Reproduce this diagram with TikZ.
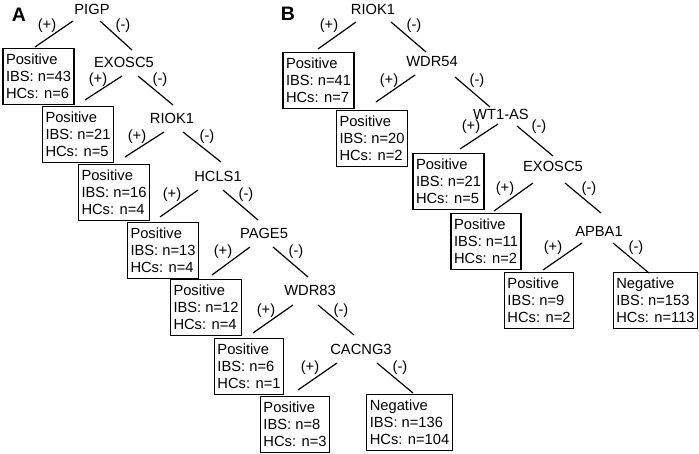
\documentclass[tikz,border=0pt]{standalone}
\usepackage{fontspec}
\setmainfont{Liberation Sans}
\begin{document}
\begin{tikzpicture}[x=1pt,y=-1pt,
  gene/.style={font=\fontsize{14.7}{17}\selectfont, inner sep=0pt},
  sgn/.style={font=\fontsize{14.7}{17}\selectfont, inner sep=0pt},
  leaf/.style={draw, line width=1.3pt, anchor=north, align=left, inner xsep=3pt, inner ysep=2pt,
    minimum height=56pt, font=\fontsize{14.7}{17}\selectfont},
  edge/.style={line width=1.2pt},
  panel/.style={font=\bfseries\fontsize{19.5}{20}\selectfont, inner sep=0pt}]
\useasboundingbox (0,0) rectangle (699,454);
% ---------------- Panel A ----------------
\node[panel] (labA) at (19,15) {A};
\node[gene] (pigp) at (92,9) {PIGP};
\node[gene] (exoA) at (124,62) {EXOSC5};
\node[gene] (riokA) at (172,118) {RIOK1};
\node[gene] (hcls) at (218,176) {HCLS1};
\node[gene] (page) at (264,233) {PAGE5};
\node[gene] (wdr83) at (310,290) {WDR83};
\node[gene] (cacng) at (361,349) {CACNG3};

\node[leaf] (a1) at (38.5,48) {Positive\\IBS: n=43\\HCs: n=6};
\node[leaf] (a2) at (78,106) {Positive\\IBS: n=21\\HCs: n=5};
\node[leaf] (a3) at (114,164) {Positive\\IBS: n=16\\HCs: n=4};
\node[leaf] (a4) at (163,222) {Positive\\IBS: n=13\\HCs: n=4};
\node[leaf] (a5) at (206,279) {Positive\\IBS: n=12\\HCs: n=4};
\node[leaf] (a6) at (249,338) {Positive\\IBS: n=6\\HCs: n=1};
\node[leaf] (a7) at (295,396) {Positive\\IBS: n=8\\HCs: n=3};
\node[leaf] (a8) at (409.5,394) {Negative\\IBS: n=136\\HCs: n=104};

\node[sgn] (pA1) at (47,26) {(+)};   \node[sgn] (mA1) at (123,26) {(-)};
\node[sgn] (pA2) at (98,80) {(+)};   \node[sgn] (mA2) at (160,80) {(-)};
\node[sgn] (pA3) at (137,137) {(+)}; \node[sgn] (mA3) at (207,137) {(-)};
\node[sgn] (pA4) at (172,195) {(+)}; \node[sgn] (mA4) at (246,195) {(-)};
\node[sgn] (pA5) at (223,252) {(+)}; \node[sgn] (mA5) at (296,252) {(-)};
\node[sgn] (pA6) at (266,311) {(+)}; \node[sgn] (mA6) at (341,311) {(-)};
\node[sgn] (pA7) at (310,368) {(+)}; \node[sgn] (mA7) at (400,368) {(-)};

\draw[edge] ([shift={(-19,12)}]pigp.center) -- ([shift={(-3.5,-1)}]a1.north);
\draw[edge] ([shift={(8,12)}]pigp.center) -- ([shift={(8,-12)}]exoA.center);
\draw[edge] ([shift={(-2,14)}]exoA.center) -- ([shift={(7,-6)}]a2.north);
\draw[edge] ([shift={(14,14)}]exoA.center) -- ([shift={(1,-13)}]riokA.center);
\draw[edge] ([shift={(-8,14)}]riokA.center) -- ([shift={(11,-7)}]a3.north);
\draw[edge] ([shift={(11,14)}]riokA.center) -- ([shift={(3,-14)}]hcls.center);
\draw[edge] ([shift={(-20,14)}]hcls.center) -- ([shift={(-3,-5)}]a4.north);
\draw[edge] ([shift={(5,14)}]hcls.center) -- ([shift={(-6,-13)}]page.center);
\draw[edge] ([shift={(-14,14)}]page.center) -- ([shift={(6,-4)}]a5.north);
\draw[edge] ([shift={(9,14)}]page.center) -- ([shift={(-2,-13)}]wdr83.center);
\draw[edge] ([shift={(-17,15)}]wdr83.center) -- ([shift={(4,-5)}]a6.north);
\draw[edge] ([shift={(8,15)}]wdr83.center) -- ([shift={(-7,-14)}]cacng.center);
\draw[edge] ([shift={(-24,14)}]cacng.center) -- ([shift={(3,-6)}]a7.north);
\draw[edge] ([shift={(16,14)}]cacng.center) -- ([shift={(3.5,-1)}]a8.north);

% ---------------- Panel B ----------------
\node[panel] (labB) at (288,14) {B};
\node[gene] (riokB) at (373,9) {RIOK1};
\node[gene] (wdr54) at (432,62) {WDR54};
\node[gene] (wt1) at (501,114) {WT1-AS};
\node[gene] (exoB) at (553,166) {EXOSC5};
\node[gene] (apba) at (599,231) {APBA1};

\node[leaf] (b1) at (318.5,52) {Positive\\IBS: n=41\\HCs: n=7};
\node[leaf] (b2) at (372,110) {Positive\\IBS: n=20\\HCs: n=2};
\node[leaf] (b3) at (448.5,153) {Positive\\IBS: n=21\\HCs: n=5};
\node[leaf] (b4) at (486,213) {Positive\\IBS: n=11\\HCs: n=2};
\node[leaf] (b5) at (539,272) {Positive\\IBS: n=9\\HCs: n=2};
\node[leaf] (b6) at (655.5,272) {Negative\\IBS: n=153\\HCs: n=113};

\node[sgn] (pB1) at (329,26) {(+)};  \node[sgn] (mB1) at (414,26) {(-)};
\node[sgn] (pB2) at (389,81) {(+)};  \node[sgn] (mB2) at (477,81) {(-)};
\node[sgn] (pB3) at (471,127) {(+)}; \node[sgn] (mB3) at (539,127) {(-)};
\node[sgn] (pB4) at (505,189) {(+)}; \node[sgn] (mB4) at (589,189) {(-)};
\node[sgn] (pB5) at (553,248) {(+)}; \node[sgn] (mB5) at (636,248) {(-)};

\draw[edge] ([shift={(-17,13)}]riokB.center) -- ([shift={(-0.5,-3)}]b1.north);
\draw[edge] ([shift={(18,13)}]riokB.center) -- ([shift={(-6,-10)}]wdr54.center);
\draw[edge] ([shift={(-17,13)}]wdr54.center) -- ([shift={(4,-8)}]b2.north);
\draw[edge] ([shift={(23,15)}]wdr54.center) -- ([shift={(-11,-7)}]wt1.center);
\draw[edge] ([shift={(-3,10)}]wt1.center) -- ([shift={(11.5,-4)}]b3.north);
\draw[edge] ([shift={(16,12)}]wt1.center) -- ([shift={(0,-10)}]exoB.center);
\draw[edge] ([shift={(-20,17)}]exoB.center) -- ([shift={(8,-2)}]b4.north);
\draw[edge] ([shift={(12,17)}]exoB.center) -- ([shift={(2,-18)}]apba.center);
\draw[edge] ([shift={(-17,12)}]apba.center) -- ([shift={(4,-2)}]b5.north);
\draw[edge] ([shift={(14,12)}]apba.center) -- ([shift={(-6.5,1)}]b6.north);
\end{tikzpicture}
\end{document}
